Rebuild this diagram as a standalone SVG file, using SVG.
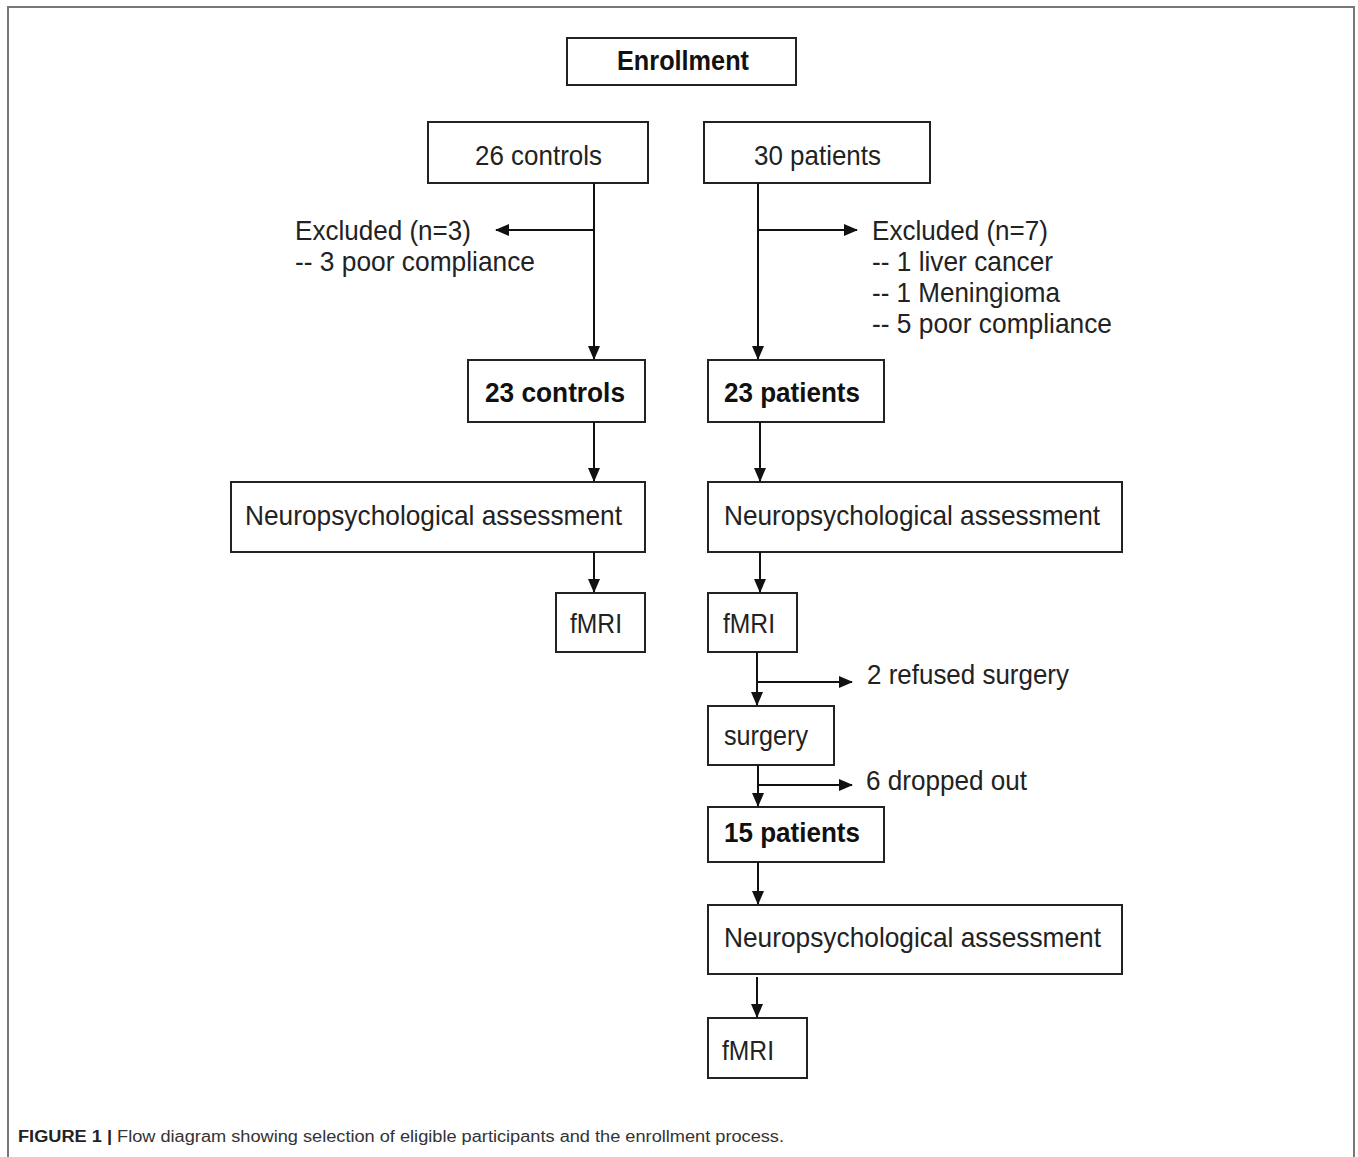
<svg xmlns="http://www.w3.org/2000/svg" width="1358" height="1157" viewBox="0 0 1358 1157">
<defs>
<marker id="ah" viewBox="0 0 14 12" refX="13" refY="6" markerWidth="14" markerHeight="12" markerUnits="userSpaceOnUse" orient="auto">
<path d="M0,0 L14,6 L0,12 Z" fill="#111"/>
</marker>
</defs>
<style>
.box{fill:#fff;stroke:#222;stroke-width:2}
.t{font-family:"Liberation Sans",Arial,sans-serif;font-size:28px;fill:#222}
.b{font-weight:bold;fill:#111}
.c{stroke:#111;stroke-width:2;fill:none}
.cap{font-family:"Liberation Sans",Arial,sans-serif;font-size:16px;fill:#333}
</style>
<rect x="0" y="0" width="1358" height="1157" fill="#fff"/>
<path d="M8,1157 L8,7 L1354,7 L1354,1157" fill="none" stroke="#777" stroke-width="2"/>

<g id="enrollment"><rect class="box" x="567" y="38" width="229" height="47"/><text class="t b" x="617" y="70" font-size="24" textLength="132" lengthAdjust="spacingAndGlyphs">Enrollment</text></g>
<g id="controls26"><rect class="box" x="428" y="122" width="220" height="61"/><text class="t" x="475" y="165" textLength="127" lengthAdjust="spacingAndGlyphs">26 controls</text></g>
<g id="patients30"><rect class="box" x="704" y="122" width="226" height="61"/><text class="t" x="754" y="165" textLength="127" lengthAdjust="spacingAndGlyphs">30 patients</text></g>
<g id="excluded3"><text class="t" x="295" y="240" textLength="176" lengthAdjust="spacingAndGlyphs">Excluded (n=3)</text><text class="t" x="295" y="271" textLength="240" lengthAdjust="spacingAndGlyphs">-- 3 poor compliance</text></g>
<g id="excluded7"><text class="t" x="872" y="240" textLength="176" lengthAdjust="spacingAndGlyphs">Excluded (n=7)</text><text class="t" x="872" y="271" textLength="181" lengthAdjust="spacingAndGlyphs">-- 1 liver cancer</text><text class="t" x="872" y="302" textLength="188" lengthAdjust="spacingAndGlyphs">-- 1 Meningioma</text><text class="t" x="872" y="333" textLength="240" lengthAdjust="spacingAndGlyphs">-- 5 poor compliance</text></g>
<g id="controls23"><rect class="box" x="468" y="360" width="177" height="62"/><text class="t b" x="485" y="402" textLength="140" lengthAdjust="spacingAndGlyphs">23 controls</text></g>
<g id="patients23"><rect class="box" x="708" y="360" width="176" height="62"/><text class="t b" x="724" y="402" textLength="136" lengthAdjust="spacingAndGlyphs">23 patients</text></g>
<g id="neuroC"><rect class="box" x="231" y="482" width="414" height="70"/><text class="t" x="245" y="525" textLength="377" lengthAdjust="spacingAndGlyphs">Neuropsychological assessment</text></g>
<g id="neuroP"><rect class="box" x="708" y="482" width="414" height="70"/><text class="t" x="724" y="525" textLength="376" lengthAdjust="spacingAndGlyphs">Neuropsychological assessment</text></g>
<g id="fmriC"><rect class="box" x="556" y="593" width="89" height="59"/><text class="t" x="570" y="633" textLength="52" lengthAdjust="spacingAndGlyphs">fMRI</text></g>
<g id="fmriP"><rect class="box" x="708" y="593" width="89" height="59"/><text class="t" x="723" y="633" textLength="52" lengthAdjust="spacingAndGlyphs">fMRI</text></g>
<g id="refused"><text class="t" x="867" y="684" textLength="202" lengthAdjust="spacingAndGlyphs">2 refused surgery</text></g>
<g id="surgery"><rect class="box" x="708" y="706" width="126" height="59"/><text class="t" x="724" y="745" textLength="84" lengthAdjust="spacingAndGlyphs">surgery</text></g>
<g id="dropped"><text class="t" x="866" y="790" textLength="161" lengthAdjust="spacingAndGlyphs">6 dropped out</text></g>
<g id="patients15"><rect class="box" x="708" y="807" width="176" height="55"/><text class="t b" x="724" y="842" textLength="136" lengthAdjust="spacingAndGlyphs">15 patients</text></g>
<g id="neuroP2"><rect class="box" x="708" y="905" width="414" height="69"/><text class="t" x="724" y="947" textLength="377" lengthAdjust="spacingAndGlyphs">Neuropsychological assessment</text></g>
<g id="fmriP2"><rect class="box" x="708" y="1018" width="99" height="60"/><text class="t" x="722" y="1060" textLength="52" lengthAdjust="spacingAndGlyphs">fMRI</text></g>

<g id="connectors">
<line class="c" x1="594" y1="183" x2="594" y2="359" marker-end="url(#ah)"/>
<line class="c" x1="594" y1="230" x2="496" y2="230" marker-end="url(#ah)"/>
<line class="c" x1="758" y1="183" x2="758" y2="359" marker-end="url(#ah)"/>
<line class="c" x1="759" y1="230" x2="857" y2="230" marker-end="url(#ah)"/>
<line class="c" x1="594" y1="422" x2="594" y2="481" marker-end="url(#ah)"/>
<line class="c" x1="760" y1="422" x2="760" y2="481" marker-end="url(#ah)"/>
<line class="c" x1="594" y1="552" x2="594" y2="592" marker-end="url(#ah)"/>
<line class="c" x1="760" y1="552" x2="760" y2="592" marker-end="url(#ah)"/>
<line class="c" x1="757" y1="652" x2="757" y2="705" marker-end="url(#ah)"/>
<line class="c" x1="758" y1="682" x2="852" y2="682" marker-end="url(#ah)"/>
<line class="c" x1="758" y1="765" x2="758" y2="806" marker-end="url(#ah)"/>
<line class="c" x1="759" y1="785" x2="852" y2="785" marker-end="url(#ah)"/>
<line class="c" x1="758" y1="862" x2="758" y2="904" marker-end="url(#ah)"/>
<line class="c" x1="757" y1="977" x2="757" y2="1017" marker-end="url(#ah)"/>
</g>

<text class="cap" x="18" y="1142" textLength="766" lengthAdjust="spacingAndGlyphs"><tspan font-weight="bold" fill="#222">FIGURE 1 |</tspan> Flow diagram showing selection of eligible participants and the enrollment process.</text>
</svg>
